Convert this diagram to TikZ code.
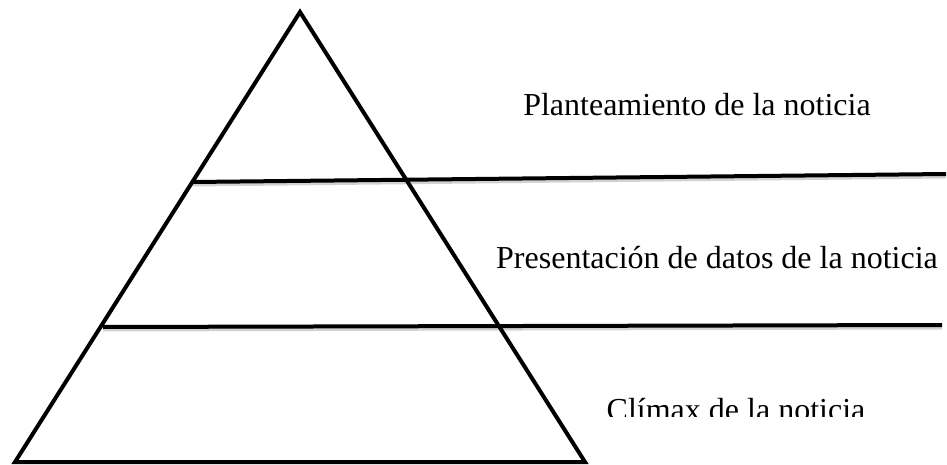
\documentclass[tikz,border=0pt]{standalone}
\usepackage{fontspec}
\setmainfont{Liberation Serif}
\definecolor{sombra}{HTML}{B4B4B4}

\tikzset{
    linea/.style={line width=4pt, line cap=butt},
    capa/.style={anchor=base, inner sep=0pt, font=\fontsize{32}{37}\selectfont}
}

\begin{document}
\begin{tikzpicture}[x=1pt, y=1pt]
    \useasboundingbox (0, 0) rectangle (947, 464);

    \coordinate (cima) at (300, 452);
    \coordinate (izq) at (15, 2);
    \coordinate (der) at (585, 2);

    \coordinate (a1) at (193, 282);
    \coordinate (b1) at (946, 290);
    \coordinate (a2) at (103, 137);
    \coordinate (b2) at (942, 139);

    % sombras de las lineas
    \foreach \a / \b in {a1/b1, a2/b2}
        \draw[sombra, line width=3pt, opacity=0.6] ([yshift=-3pt]\a) -- ([yshift=-3pt]\b);

    \draw[linea, line join=miter] (izq) -- (cima) -- (der) -- cycle;
    \draw[linea] (a1) -- (b1);
    \draw[linea] (a2) -- (b2);

    \node[capa] (planteamiento) at (697, 348) {Planteamiento de la noticia};
    \node[capa] (presentacion) at (717, 196) {Presentación de datos de la noticia};
    % el texto de abajo sale recortado
    \begin{scope}
        \clip (590, 48) rectangle (947, 100);
        \node[capa] (climax) at (736, 44) {Clímax de la noticia};
    \end{scope}

\end{tikzpicture}
\end{document}
